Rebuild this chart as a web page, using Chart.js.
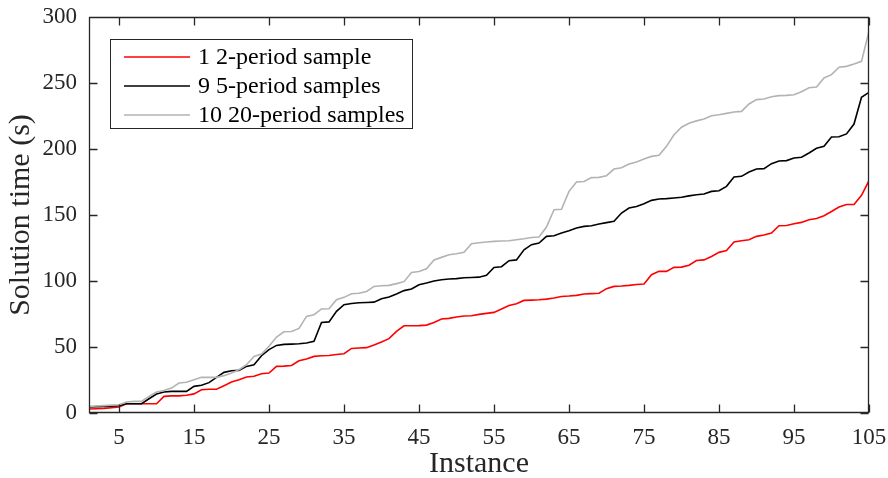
<!DOCTYPE html>
<html>
<head>
<meta charset="utf-8">
<script src="https://cdn.jsdelivr.net/npm/chart.js@4/dist/chart.umd.min.js"></script>
<style>
  html, body { margin: 0; padding: 0; background: #ffffff; }
  #wrap { width: 888px; height: 478px; position: relative; }
</style>
</head>
<body>
<div id="wrap"><canvas id="c" width="888" height="478"></canvas></div>
<script>
const instances = Array.from({length: 105}, (_, i) => i + 1);

const seriesLabels = ["1 2-period sample", "9 5-period samples", "10 20-period samples"];

const oneTwoPeriod = [
  3, 3.2, 3.5, 4, 4.5, 7, 7, 7, 7, 7,
  12.6, 13, 13, 13.5, 14.5, 17.6, 18, 18, 20.7, 23.5,
  25.2, 27.3, 27.8, 29.8, 30.3, 35.3, 35.5, 36, 39.6, 40.9,
  42.9, 43.4, 43.6, 44.3, 44.9, 48.9, 49.2, 49.5, 51.5, 53.8,
  56.3, 61.8, 66.1, 66.1, 66.2, 66.6, 68.6, 71.2, 71.7, 72.7,
  73.5, 73.7, 74.7, 75.5, 76.2, 78.8, 81.5, 82.8, 85.3, 85.5,
  85.8, 86.3, 87.1, 88.3, 88.6, 89.1, 90.2, 90.4, 90.7, 94.2,
  95.9, 96.2, 96.7, 97.4, 97.7, 104.8, 107.3, 107.3, 110.3, 110.5,
  112, 115.5, 116, 118.6, 121.7, 123, 129.5, 130.5, 131.3, 133.8,
  134.8, 136.4, 141.9, 142.1, 143.4, 144.4, 146.4, 147.4, 149.5, 152.7,
  156.1, 158, 158, 164.9, 176
];

const nineFivePeriod = [
  4.5, 4.8, 5, 5.2, 5.5, 7, 7, 7, 10.8, 14.4,
  15.9, 16.4, 16.4, 16.4, 20.2, 21, 23, 27, 30.8, 32,
  32.3, 35.3, 36.5, 43.4, 48, 51.2, 52, 52.2, 52.5, 53,
  54.3, 68.6, 69, 77, 82, 83, 83.5, 83.7, 84, 86.6,
  87.9, 90.2, 92.7, 93.9, 97.2, 98.5, 100, 101, 101.5, 101.8,
  102.5, 102.7, 102.9, 104.3, 110.3, 110.8, 115.4, 116, 123.7, 127.5,
  128.7, 133.8, 134.3, 136.4, 138.1, 140.2, 141.4, 141.9, 143.2, 144.2,
  145.2, 151.5, 155.3, 156.5, 158.6, 161.1, 162.1, 162.4, 162.9, 163.4,
  164.5, 165.4, 165.9, 167.9, 168.4, 171.7, 178.8, 179.3, 182.6, 184.8,
  185.1, 188.9, 190.9, 191.2, 193.2, 193.7, 197, 200.5, 202, 209.1,
  209.3, 211.4, 218.9, 239.2, 242.9
];

const tenTwentyPeriod = [
  5, 5.3, 5.6, 6, 6.3, 8.3, 8.8, 8.8, 12.6, 15.9,
  17, 18.9, 22.7, 23.3, 25.2, 27, 27, 27, 28.3, 30.3,
  32.8, 36.6, 42.9, 44.7, 50.5, 57.6, 61.5, 61.8, 64.1, 73.2,
  74.5, 78.8, 79, 85.8, 87.6, 90.4, 90.7, 92.1, 95.9, 96.4,
  96.7, 98, 99.5, 106.5, 107.2, 109.3, 116, 117.9, 119.9, 120.6,
  121.7, 128.3, 129, 129.5, 130, 130.3, 130.5, 131.3, 132, 133,
  133.3, 140.9, 154, 154.3, 167.9, 175, 175.4, 178.3, 178.5, 179.8,
  184.8, 185.8, 188.6, 190.2, 192.4, 194.4, 195.2, 202, 210.8, 216.5,
  219.5, 221.3, 222.7, 225.2, 226, 227, 228, 228.5, 234.1, 237.4,
  237.9, 239.6, 240.4, 240.6, 241.1, 243.4, 246.4, 247, 253.8, 256.3,
  261.9, 262.6, 264.4, 266.4, 289.2
];

const xTickValues = [5, 15, 25, 35, 45, 55, 65, 75, 85, 95, 105];
const yTickValues = [0, 50, 100, 150, 200, 250, 300];

const seriesColors = ["#ff0000", "#000000", "#b3b3b3"];
const axisColor = "#262626";
const FONT = "'Liberation Serif', 'Times New Roman', serif";

function toPoints(arr) { return arr.map((v, i) => ({x: instances[i], y: v})); }

const boxPlugin = {
  id: 'matlabBox',
  afterDatasetsDraw(chart) {
    const {ctx, chartArea, scales} = chart;
    const {left, right, top, bottom} = chartArea;
    const L = Math.round(left) + 0.5, R = Math.round(right) - 0.5;
    const T = Math.round(top) + 0.5, B = Math.round(bottom) - 0.5;
    const tl = 8;
    ctx.save();
    ctx.strokeStyle = axisColor;
    ctx.lineWidth = 1.3;
    ctx.beginPath();
    ctx.rect(L, T, R - L, B - T);
    scales.x.ticks.forEach(t => {
      const px = Math.round(scales.x.getPixelForValue(t.value)) + 0.5;
      ctx.moveTo(px, B); ctx.lineTo(px, B - tl);
      ctx.moveTo(px, T); ctx.lineTo(px, T + tl);
    });
    scales.y.ticks.forEach(t => {
      const py = Math.round(scales.y.getPixelForValue(t.value)) + 0.5;
      ctx.moveTo(L, py); ctx.lineTo(L + tl, py);
      ctx.moveTo(R, py); ctx.lineTo(R - tl, py);
    });
    ctx.stroke();

    // legend box
    const lx = 110.5, ly = 39.5, lw = 302, lh = 89;
    ctx.fillStyle = '#ffffff';
    ctx.fillRect(lx, ly, lw, lh);
    ctx.lineWidth = 1;
    ctx.strokeStyle = axisColor;
    ctx.strokeRect(lx, ly, lw, lh);
    const rows = [57, 86, 115];
    ctx.font = "24px " + FONT;
    ctx.textBaseline = 'middle';
    ctx.textAlign = 'left';
    chart.data.datasets.forEach((ds, i) => {
      const yy = rows[i];
      ctx.strokeStyle = ds.borderColor;
      ctx.lineWidth = 1.6;
      ctx.beginPath();
      ctx.moveTo(124, yy); ctx.lineTo(190, yy);
      ctx.stroke();
      ctx.fillStyle = '#000000';
      ctx.fillText(ds.label, 198, yy + 1);
    });
    ctx.restore();
  }
};

new Chart(document.getElementById('c'), {
  type: 'line',
  data: {
    datasets: [
      {label: seriesLabels[0], data: toPoints(oneTwoPeriod), borderColor: seriesColors[0], borderWidth: 1.6, pointRadius: 0, tension: 0, fill: false, order: 2},
      {label: seriesLabels[1], data: toPoints(nineFivePeriod), borderColor: seriesColors[1], borderWidth: 1.6, pointRadius: 0, tension: 0, fill: false, order: 1},
      {label: seriesLabels[2], data: toPoints(tenTwentyPeriod), borderColor: seriesColors[2], borderWidth: 1.6, pointRadius: 0, tension: 0, fill: false, order: 0}
    ]
  },
  options: {
    responsive: false,
    animation: false,
    events: [],
    layout: { padding: { top: 17, right: 19, left: 0, bottom: 0 } },
    plugins: { legend: { display: false }, tooltip: { enabled: false } },
    scales: {
      x: {
        type: 'linear', min: 1, max: 105,
        afterBuildTicks: (s) => { s.ticks = xTickValues.map(v => ({value: v})); },
        afterFit: (s) => { s.height = 65; s.paddingLeft = 0; s.paddingRight = 0; },
        grid: { display: false, drawTicks: false },
        border: { display: false },
        ticks: { autoSkip: false, maxRotation: 0, padding: 11, color: axisColor, font: { family: FONT, size: 23 } },
        title: { display: true, text: 'Instance', color: axisColor, font: { family: FONT, size: 30, lineHeight: 1 }, padding: { top: 0, bottom: -1 } }
      },
      y: {
        min: 0, max: 300,
        afterBuildTicks: (s) => { s.ticks = yTickValues.map(v => ({value: v})); },
        afterFit: (s) => { s.width = 89; s.paddingTop = 0; s.paddingBottom = 0; },
        grid: { display: false, drawTicks: false },
        border: { display: false },
        ticks: { padding: 12, color: axisColor, font: { family: FONT, size: 23 } },
        title: { display: true, text: 'Solution time (s)', color: axisColor, font: { family: FONT, size: 30, lineHeight: 1 }, padding: { top: 6, bottom: 0 } }
      }
    }
  },
  plugins: [boxPlugin]
});
</script>
</body>
</html>
